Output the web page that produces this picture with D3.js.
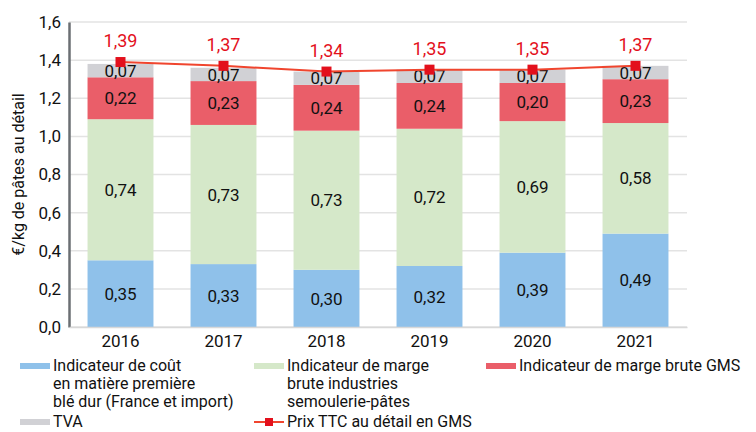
<!DOCTYPE html>
<html>
<head>
<meta charset="utf-8">
<script src="https://cdn.jsdelivr.net/npm/d3@7"></script>
<style>
  body { margin: 0; background: #fff; }
  text { font-family: Roboto, "Noto Sans", sans-serif; }
</style>
</head>
<body>
<div id="chart"></div>
<script>
// data
const years = ["2016", "2017", "2018", "2019", "2020", "2021"];
const coutBle = [0.35, 0.33, 0.30, 0.32, 0.39, 0.49];
const margeIndustrie = [0.74, 0.73, 0.73, 0.72, 0.69, 0.58];
const margeGMS = [0.22, 0.23, 0.24, 0.24, 0.20, 0.23];
const tva = [0.07, 0.07, 0.07, 0.07, 0.07, 0.07];
const prixTTC = [1.39, 1.37, 1.34, 1.35, 1.35, 1.37];
const yTicks = [0, 0.2, 0.4, 0.6, 0.8, 1.0, 1.2, 1.4, 1.6];

const width = 756, height = 432;
const margin = { top: 22, right: 69, bottom: 105, left: 69 };

const keys = ["cout", "industrie", "gms", "tva"];
const colors = { cout: "#8fc1ea", industrie: "#d5e8c9", gms: "#ea5e69", tva: "#d1d1d5" };

const rows = years.map((y, i) => ({
  year: y, cout: coutBle[i], industrie: margeIndustrie[i], gms: margeGMS[i], tva: tva[i], prix: prixTTC[i]
}));

const svg = d3.select("#chart").append("svg")
  .attr("width", width).attr("height", height)
  .attr("viewBox", [0, 0, width, height]);

const x = d3.scaleBand().domain(years)
  .range([margin.left, width - margin.right])
  .paddingInner(0.36).paddingOuter(0.18);
const y = d3.scaleLinear().domain([0, 1.6])
  .range([height - margin.bottom, margin.top]);

const fmt = v => d3.format(".2f")(v).replace(".", ",");

// gridlines
svg.append("g")
  .selectAll("line").data(yTicks).join("line")
  .attr("x1", margin.left).attr("x2", width - margin.right)
  .attr("y1", d => y(d)).attr("y2", d => y(d))
  .attr("stroke", "#e3e3e3").attr("stroke-width", 1.5);

// stacked bars
const stack = d3.stack().keys(keys)(rows);
const layer = svg.append("g").selectAll("g").data(stack).join("g")
  .attr("fill", d => colors[d.key]);
layer.selectAll("rect").data(d => d).join("rect")
  .attr("x", d => x(d.data.year))
  .attr("width", x.bandwidth())
  .attr("y", d => y(d[1]))
  .attr("height", d => y(d[0]) - y(d[1]));

// segment labels
const lab = svg.append("g").attr("font-size", 17).attr("fill", "#111").attr("text-anchor", "middle");
stack.forEach(s => {
  lab.selectAll(null).data(s).join("text")
    .attr("x", d => x(d.data.year) + x.bandwidth() / 2)
    .attr("y", d => (y(d[0]) + y(d[1])) / 2)
    .attr("dy", "0.36em")
    .text(d => fmt(d[1] - d[0]));
});

// y axis
const yAxis = svg.append("g")
  .attr("transform", `translate(${margin.left},0)`)
  .call(d3.axisLeft(y).tickValues(yTicks).tickSize(0).tickPadding(8).tickFormat(d => d3.format(".1f")(d).replace(".", ",")));
yAxis.select(".domain").attr("stroke", "#6b6f73").attr("stroke-width", 2.5);
yAxis.selectAll("text").attr("font-size", 17).attr("fill", "#111");

// x axis
const xAxis = svg.append("g")
  .attr("transform", `translate(0,${y(0)})`)
  .call(d3.axisBottom(x).tickSize(0).tickPadding(8));
xAxis.select(".domain").attr("stroke", "#d8d8d8").attr("stroke-width", 1.5);
xAxis.selectAll("text").attr("font-size", 17).attr("fill", "#111");

// axis title
svg.append("text")
  .attr("transform", `translate(24,${y(0.8)}) rotate(-90)`)
  .attr("text-anchor", "middle").attr("font-size", 16).attr("fill", "#111")
  .text("€/kg de pâtes au détail");

// price line
const cx = d => x(d.year) + x.bandwidth() / 2;
svg.append("path").datum(rows)
  .attr("fill", "none").attr("stroke", "#f0452e").attr("stroke-width", 2)
  .attr("d", d3.line().x(cx).y(d => y(d.prix)));
svg.append("g").selectAll("rect").data(rows).join("rect")
  .attr("x", d => cx(d) - 5).attr("y", d => y(d.prix) - 5)
  .attr("width", 10).attr("height", 10).attr("fill", "#e3101c");
svg.append("g").selectAll("text").data(rows).join("text")
  .attr("x", cx).attr("y", d => y(d.prix) - 15)
  .attr("text-anchor", "middle").attr("font-size", 18).attr("fill", "#e3101c")
  .text(d => fmt(d.prix));

// legend, one text per line
const legend = [
  { x: 20, y: 366, color: colors.cout, lines: ["Indicateur de coût", "en matière première", "blé dur (France et import)"] },
  { x: 254, y: 366, color: colors.industrie, lines: ["Indicateur de marge", "brute industries", "semoulerie-pâtes"] },
  { x: 486, y: 366, color: colors.gms, lines: ["Indicateur de marge brute GMS"] },
  { x: 20, y: 422, color: colors.tva, lines: ["TVA"] }
];
const lg = svg.append("g").attr("font-size", 16).attr("fill", "#111");
legend.forEach(l => {
  lg.append("rect").attr("x", l.x).attr("y", l.y - 3).attr("width", 30).attr("height", 6).attr("fill", l.color);
  l.lines.forEach((s, i) => {
    lg.append("text").attr("x", l.x + 33).attr("y", l.y + i * 18).attr("dy", "0.33em").text(s);
  });
});
lg.append("line").attr("x1", 254).attr("x2", 284).attr("y1", 422).attr("y2", 422)
  .attr("stroke", "#f0452e").attr("stroke-width", 2);
lg.append("rect").attr("x", 265).attr("y", 418).attr("width", 8).attr("height", 8).attr("fill", "#e3101c");
lg.append("text").attr("x", 287).attr("y", 422).attr("dy", "0.33em").text("Prix TTC au détail en GMS");
</script>
</body>
</html>
